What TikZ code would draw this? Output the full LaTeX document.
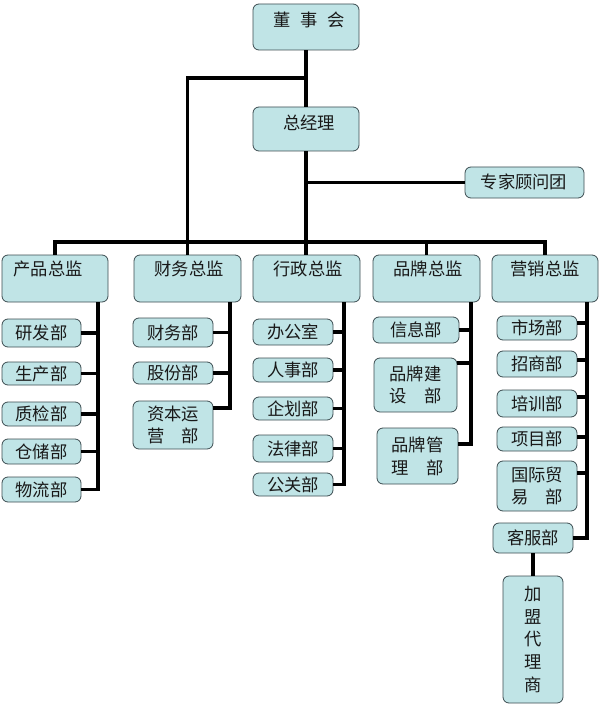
\documentclass[tikz,border=0pt]{standalone}
\usepackage{fontspec}
\newfontfamily\cjk{Noto Sans CJK SC}
\definecolor{boxfill}{RGB}{192,228,230}
\definecolor{boxline}{RGB}{60,76,80}
\definecolor{txtcol}{RGB}{25,25,25}
\newcommand\bx[6]{\node[box, minimum width={#4-#2}, minimum height={#5-#3}] (#1) at ({(#2+#4)/2},{(#3+#5)/2}) {#6};}
\begin{document}
\begin{tikzpicture}[x=1pt,y=-1pt,
  box/.style={draw=boxline, fill=boxfill, line width=0.8pt, rounded corners=6pt, inner sep=0pt, align=center,
    text=txtcol, font=\cjk\fontsize{17.3}{22.8}\selectfont},
  txt/.style={inner sep=0pt, text=txtcol, font=\cjk\fontsize{17.3}{22.8}\selectfont},
  conn/.style={line width=3.3pt, black}]
\useasboundingbox (0,0) rectangle (600,714);
% top
\bx{dsh}{253}{4}{359}{50}{}
\node[txt] (dsh-t) at (309,20) {董\hspace{0.55em}事\hspace{0.55em}会};
\bx{zjl}{253}{107}{359}{151}{}
\node[txt] (zjl-t) at (309,123) {总经理};
\bx{zj}{465}{167}{584}{198}{}
\node[txt] (zj-t) at (524,182) {专家顾问团};
% directors
\bx{cp}{2}{255}{108}{302}{}
\node[txt] (cp-t) at (48,269) {产品总监};
\bx{cw}{134}{255}{241}{302}{}
\node[txt] (cw-t) at (189,269) {财务总监};
\bx{xz}{253}{255}{360}{302}{}
\node[txt] (xz-t) at (308,269) {行政总监};
\bx{pp}{373}{255}{480}{302}{}
\node[txt] (pp-t) at (428,269) {品牌总监};
\bx{yx}{492}{255}{598}{302}{}
\node[txt] (yx-t) at (545,269) {营销总监};
% product
\bx{yf}{2}{319}{81}{347}{研发部}
\bx{sc}{2}{362}{81}{385}{生产部}
\bx{zjb}{2}{402}{81}{426}{质检部}
\bx{cc}{2}{439}{81}{464}{仓储部}
\bx{wl}{2}{477}{81}{502}{物流部}
% finance
\bx{cwb}{133}{318}{213}{347}{财务部}
\bx{gf}{133}{362}{213}{384}{股份部}
\bx{zb}{133}{401}{213}{449}{资本运\\营　部}
% admin
\bx{bgs}{253}{319}{333}{345}{办公室}
\bx{rs}{253}{358}{333}{382}{人事部}
\bx{qh}{253}{397}{333}{420}{企划部}
\bx{fl}{253}{435}{333}{462}{法律部}
\bx{gg}{253}{473}{333}{496}{公关部}
% brand
\bx{xx}{373}{317}{459}{343}{信息部}
\bx{ppjs}{374}{358}{457}{412}{品牌建\\设　部}
\bx{ppgl}{377}{428}{458}{484}{品牌管\\理　部}
% marketing
\bx{sCb}{497}{316}{577}{340}{市场部}
\bx{zs}{497}{351}{577}{377}{招商部}
\bx{px}{497}{390}{577}{417}{培训部}
\bx{xm}{497}{427}{577}{451}{项目部}
\bx{gj}{497}{461}{577}{511}{国际贸\\易　部}
\bx{kf}{493}{523}{573}{553}{客服部}
\bx{jm}{503}{576}{563}{703}{加\\盟\\代\\理\\商}
% connectors top
\coordinate (br) at (306,78);
\coordinate (bus) at (0,242);
\draw[conn] (dsh.south) -- (zjl.north);
\draw[conn] (zjl.south) -- (zjl.south |- xz.north);
\draw[conn] (br) -| (cw.north);
\draw[conn] (cp.north) -- (cp.north |- bus) -- (yx.north |- bus) -- (yx.north);
\draw[conn] (pp.north) -- (pp.north |- bus);
\draw[conn] (zjl.south |- zj.west) -- (zj.west);
% spines
\coordinate (s1) at (98,0);
\coordinate (s2) at (230,0);
\coordinate (s3) at (344,0);
\coordinate (s4) at (471,0);
\coordinate (s5) at (587,0);
% product
\draw[conn] (cp.south -| s1) |- (wl.east);
\foreach \n in {yf,sc,zjb,cc} \draw[conn] (\n.east) -- (\n.east -| s1);
% finance
\draw[conn] (cw.south -| s2) |- (zb.east |- 0,408);
\foreach \n in {cwb,gf} \draw[conn] (\n.east) -- (\n.east -| s2);
% admin
\draw[conn] (xz.south -| s3) |- (gg.east);
\foreach \n in {bgs,rs,qh,fl} \draw[conn] (\n.east) -- (\n.east -| s3);
% brand
\draw[conn] (pp.south -| s4) |- (ppgl.east |- 0,444);
\draw[conn] (xx.east) -- (xx.east -| s4);
\draw[conn] (ppjs.east |- 0,363) -- (s4 |- 0,363);
% marketing
\draw[conn] (yx.south -| s5) |- (kf.east);
\draw[conn] (sCb.east |- 0,323) -- (s5 |- 0,323);
\draw[conn] (zs.east |- 0,360) -- (s5 |- 0,360);
\draw[conn] (px.east |- 0,397) -- (s5 |- 0,397);
\draw[conn] (xm.east |- 0,437) -- (s5 |- 0,437);
\draw[conn] (gj.east |- 0,473) -- (s5 |- 0,473);
\draw[conn] (kf.south) -- (kf.south |- jm.north);
\end{tikzpicture}
\end{document}
